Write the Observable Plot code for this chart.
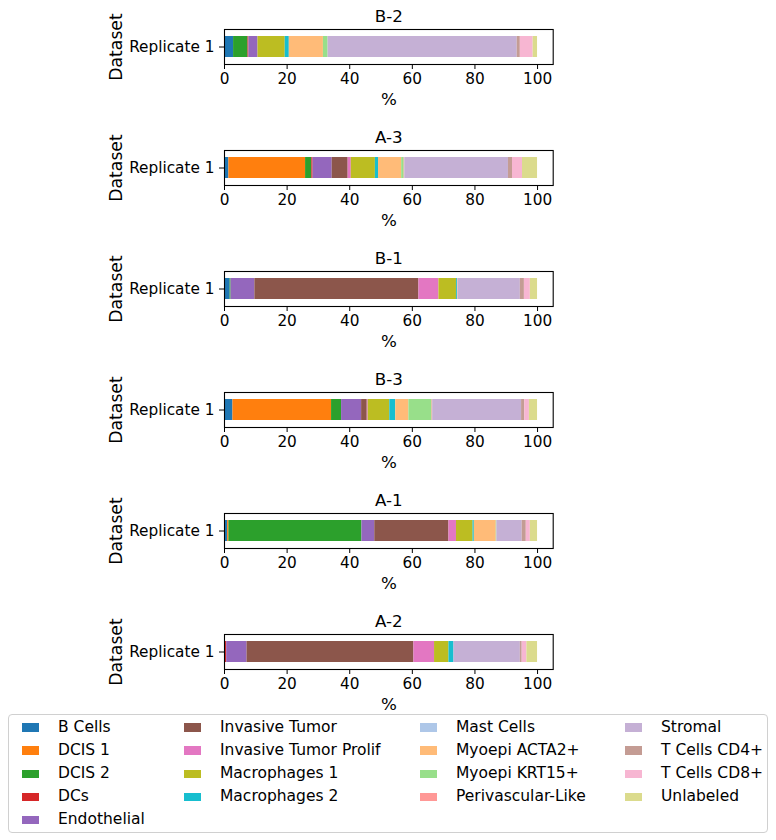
<!DOCTYPE html>
<html>
<head>
<meta charset="utf-8">
<script src="https://cdn.jsdelivr.net/npm/d3@7"></script>
<script src="https://cdn.jsdelivr.net/npm/@observablehq/plot@0.6"></script>
<style>
  html, body { margin: 0; padding: 0; background: #fff; }
  body { font-family: "DejaVu Sans", sans-serif; }
  #wrap { position: relative; width: 776px; height: 840px; }
  .panel { position: absolute; left: 0; }
  #legend {
    position: absolute; left: 8px; top: 714px; width: 758px; height: 117px;
    border: 1px solid #d0d0d0; border-radius: 4px; background: #fff;
    box-sizing: content-box;
  }
  #legend .grid {
    display: grid;
    grid-template-rows: repeat(5, 23.1px);
    grid-template-columns: 162px 236px 205px auto;
    column-gap: 0; padding: 1px 0 0 13px;
    justify-content: start;
  }
  #legend .item { display: flex; align-items: center; font-size: 15.5px; line-height: 23.1px; color: #000; white-space: nowrap; }
  #legend .sw { width: 17px; height: 8.4px; margin-right: 19px; flex: none; }
</style>
</head>
<body>
<div id="wrap"></div>
<script>
// ---- data ----
const categories = ["B Cells", "DCIS 1", "DCIS 2", "DCs", "Endothelial", "Invasive Tumor",
  "Invasive Tumor Prolif", "Macrophages 1", "Macrophages 2", "Mast Cells", "Myoepi ACTA2+",
  "Myoepi KRT15+", "Perivascular-Like", "Stromal", "T Cells CD4+", "T Cells CD8+", "Unlabeled"];
const colors = ["#1f77b4", "#ff7f0e", "#2ca02c", "#d62728", "#9467bd", "#8c564b", "#e377c2",
  "#bcbd22", "#17becf", "#aec7e8", "#ffbb78", "#98df8a", "#ff9896", "#c5b0d5", "#c49c94",
  "#f7b6d2", "#dbdb8d"];
const datasets = ["B-2", "A-3", "B-1", "B-3", "A-1", "A-2"];
const replicate = "Replicate 1";
const valuesB2 = [2.9, 0, 4.6, 0.3, 2.9, 0, 0, 8.7, 1.3, 0, 10.9, 1.5, 0, 60.4, 1.0, 4.1, 1.4];
const valuesA3 = [1.4, 24.5, 2.0, 0.4, 6.1, 5.1, 1.0, 7.7, 1.0, 0, 7.4, 0.8, 0.2, 33.1, 1.3, 3.2, 4.8];
const valuesB1 = [1.8, 0, 0.3, 0, 7.6, 52.4, 6.4, 5.6, 0.3, 0, 0.2, 0, 0, 19.9, 1.3, 1.9, 2.3];
const valuesB3 = [2.7, 31.5, 3.2, 0, 6.4, 1.8, 0.3, 6.9, 1.9, 0, 4.2, 7.4, 0.2, 28.4, 1.0, 1.5, 2.6];
const valuesA1 = [1.0, 0.4, 42.5, 0, 4.1, 23.7, 2.4, 5.3, 0.4, 0, 7.0, 0.2, 0, 8.1, 1.3, 1.3, 2.3];
const valuesA2 = [0.3, 0, 0, 0.4, 6.5, 53.3, 6.6, 4.6, 1.6, 0, 0, 0, 0, 21.2, 0.6, 1.5, 3.4];
const xTicks = [0, 20, 40, 60, 80, 100];
const xLabel = "%";
const yLabel = "Dataset";

const panelValues = [valuesB2, valuesA3, valuesB1, valuesB3, valuesA1, valuesA2];

// ---- layout ----
const W = 776, PANEL_H = 121;
const wrap = document.getElementById("wrap");

datasets.forEach((name, i) => {
  const rows = categories.map((c, j) => ({type: c, value: panelValues[i][j], rep: replicate}));
  const chart = Plot.plot({
    width: W,
    height: PANEL_H,
    marginLeft: 224,
    marginRight: 223.3,
    marginTop: 29,
    marginBottom: 57,
    style: {fontFamily: "DejaVu Sans, sans-serif", fontSize: "15.3px", color: "#000", background: "transparent", overflow: "visible"},
    x: {domain: [0, 105], ticks: xTicks, label: null},
    y: {domain: [replicate], padding: 0.25, label: null},
    color: {domain: categories, range: colors},
    marks: [
      Plot.barX(rows, {x: "value", y: "rep", fill: "type"}),
      Plot.frame({stroke: "#000", strokeWidth: 1.1}),
      Plot.axisX({ticks: xTicks, tickSize: 5, tickPadding: 4, fontSize: 15.3, label: null}),
      Plot.axisY({tickSize: 5, tickPadding: 5, fontSize: 15.3, label: null}),
      Plot.text([name], {frameAnchor: "top", dy: -12.5, lineAnchor: "middle", textAnchor: "middle", fontSize: 16.7, fill: "#000"}),
      Plot.text([xLabel], {frameAnchor: "bottom", dy: 35, lineAnchor: "middle", textAnchor: "middle", fontSize: 16.7, fill: "#000"}),
      Plot.text([yLabel], {frameAnchor: "left", rotate: -90, dx: -108, lineAnchor: "middle", textAnchor: "middle", fontSize: 17.2, fill: "#000"})
    ]
  });
  chart.classList.add("panel");
  chart.style.top = (PANEL_H * i) + "px";
  wrap.appendChild(chart);
});

// ---- legend (4 columns, filled column by column: 5,4,4,4) ----
const legend = document.createElement("div");
legend.id = "legend";
const grid = document.createElement("div");
grid.className = "grid";
const nCol = 4;
const perCol = Array.from({length: nCol}, (_, k) => Math.floor(categories.length / nCol) + (k < categories.length % nCol ? 1 : 0));
let idx = 0;
perCol.forEach((n, col) => {
  for (let r = 0; r < n; r++, idx++) {
    const item = document.createElement("div");
    item.className = "item";
    item.style.gridColumn = String(col + 1);
    item.style.gridRow = String(r + 1);
    const sw = document.createElement("span");
    sw.className = "sw";
    sw.style.background = colors[idx];
    const tx = document.createElement("span");
    tx.textContent = categories[idx];
    item.appendChild(sw);
    item.appendChild(tx);
    grid.appendChild(item);
  }
});
legend.appendChild(grid);
wrap.appendChild(legend);
</script>
</body>
</html>
